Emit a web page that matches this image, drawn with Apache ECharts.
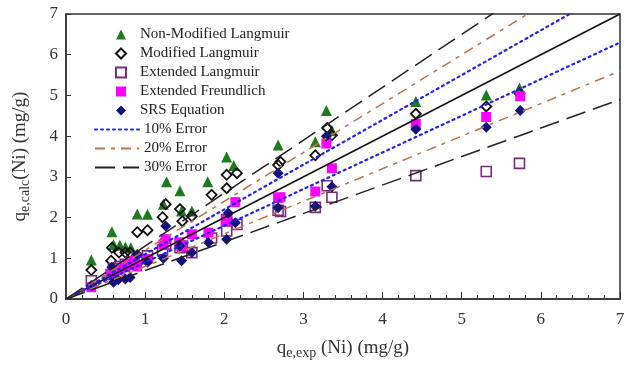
<!DOCTYPE html>
<html>
<head>
<meta charset="utf-8">
<script src="https://cdn.jsdelivr.net/npm/echarts@6/dist/echarts.min.js"></script>
<style>
  html, body { margin: 0; padding: 0; background: #fff; }
  #chart { width: 634px; height: 365px; }
</style>
</head>
<body>
<div id="chart"></div>
<script>
// values: [q_exp, q_calc]
var nonModified = [[0.32,0.96],[0.58,1.65],[0.60,1.34],[0.68,1.32],[0.75,1.28],[0.82,1.26],[0.90,2.09],[1.03,2.08],
  [1.23,2.33],[1.27,2.88],[1.44,2.66],[1.46,2.16],[1.59,2.16],[1.79,2.88],[2.03,3.49],[2.12,3.28],
  [2.68,3.78],[3.15,3.86],[3.29,4.63],[3.36,4.14],[4.42,4.85],[5.31,5.01],[5.73,5.18]];
var modified = [[0.32,0.71],[0.57,0.94],[0.58,1.26],[0.67,1.14],[0.75,1.14],[0.81,1.14],[0.90,1.64],[1.03,1.69],
  [1.22,2.01],[1.26,2.33],[1.44,2.21],[1.47,1.91],[1.59,2.03],[1.84,2.56],[2.03,2.72],[2.03,3.05],[2.16,3.09],
  [2.68,3.29],[2.71,3.37],[3.15,3.53],[3.30,4.20],[3.36,4.02],[4.42,4.55],[5.31,4.73],[5.73,5.05]];
var extLangmuir = [[0.32,0.45],[0.57,0.60],[0.60,0.75],[0.68,0.80],[0.75,0.85],[0.82,0.90],[0.90,1.00],[1.03,1.06],
  [1.22,1.20],[1.26,1.35],[1.44,1.26],[1.47,1.30],[1.59,1.14],[1.84,1.50],[2.03,1.67],[2.03,1.95],[2.16,1.83],
  [2.68,2.18],[2.71,2.15],[3.15,2.25],[3.30,2.78],[3.36,2.50],[4.42,3.03],[5.31,3.13],[5.73,3.33]];
var extFreundlich = [[0.32,0.29],[0.57,0.62],[0.60,0.70],[0.68,0.72],[0.75,0.78],[0.80,0.85],[0.87,0.94],[0.90,0.80],
  [1.03,0.98],[1.23,1.34],[1.26,1.47],[1.43,1.39],[1.47,1.30],[1.59,1.59],[1.80,1.63],[2.02,1.91],[2.03,1.95],
  [2.14,2.38],[2.68,2.48],[2.71,2.50],[3.15,2.64],[3.29,3.82],[3.36,3.21],[4.42,4.30],[5.31,4.47],[5.74,4.98]];
var srs = [[0.32,0.33],[0.58,0.78],[0.60,0.41],[0.66,0.47],[0.75,0.49],[0.81,0.53],[0.90,1.09],[1.03,0.90],
  [1.23,1.00],[1.26,1.79],[1.44,1.30],[1.46,0.94],[1.59,1.14],[1.80,1.39],[2.03,1.47],[2.05,2.11],[2.14,1.87],
  [2.68,3.09],[2.68,2.24],[3.15,2.28],[3.29,4.00],[3.36,2.76],[4.42,4.17],[5.31,4.22],[5.74,4.63]];

// error bands y = k*x
var errFactors = { '10% Error': [1.1, 0.9], '20% Error': [1.2, 0.8], '30% Error': [1.3, 0.7] };
var axisTicks = [0, 1, 2, 3, 4, 5, 6, 7];

var font = 'Liberation Serif';
var chart = echarts.init(document.getElementById('chart'));

function band(k) {
  return [[0, 0], [7, 7 * k]];
}

function errLine(name, k, style) {
  return {
    name: name, type: 'line', data: band(k), symbol: 'none', silent: true,
    clip: true, lineStyle: style, itemStyle: { color: style.color }
  };
}

var s10 = { color: '#2222ee', width: 2.2, type: [2, 4], cap: 'round' };
var s20 = { color: '#c0704a', width: 1.5, type: [10, 6, 4, 6] };
var s30 = { color: '#222', width: 1.5, type: [20, 8] };

var legendText = { fontFamily: font, fontSize: 15, color: '#222' };

chart.setOption({
  animation: false,
  grid: { left: 66, right: 14, top: 14, bottom: 63, show: true, borderColor: '#333', borderWidth: 1.5 },
  legend: [{
    // markers
    orient: 'vertical', left: 110, top: 22, itemWidth: 10, itemHeight: 10, itemGap: 4,
    textStyle: Object.assign({ padding: [0, 0, 0, 9] }, legendText),
    data: ['Non-Modified Langmuir', 'Modified Langmuir', 'Extended Langmuir', 'Extended Freundlich', 'SRS Equation']
  }, {
    // error lines
    orient: 'vertical', left: 89, top: 117, itemWidth: 44, itemHeight: 10, itemGap: 4,
    textStyle: legendText,
    data: [
      { name: '10% Error', itemStyle: { opacity: 0 } },
      { name: '20% Error', itemStyle: { opacity: 0 } },
      { name: '30% Error', itemStyle: { opacity: 0 } }
    ]
  }],
  xAxis: {
    type: 'value', min: 0, max: 7, interval: 1,
    axisLine: { lineStyle: { color: '#333', width: 1.5 } },
    axisTick: { inside: true, length: 7, lineStyle: { color: '#333' } },
    minorTick: { show: true, splitNumber: 5, length: 4, lineStyle: { color: '#333' } },
    splitLine: { show: false },
    axisLabel: { fontFamily: font, fontSize: 17, color: '#333', margin: 12,
      formatter: function (v) { return axisTicks.indexOf(v) >= 0 ? String(v) : ''; } },
    name: '{q|q}{sub|e,exp}{q| (Ni) (mg/g)}', nameLocation: 'middle', nameGap: 38,
    nameTextStyle: { rich: {
      q: { fontFamily: font, fontSize: 19, color: '#333' },
      sub: { fontFamily: font, fontSize: 14, color: '#333', padding: [9, 0, 0, 0] }
    } }
  },
  yAxis: {
    type: 'value', min: 0, max: 7, interval: 1,
    axisLine: { lineStyle: { color: '#333', width: 1.5 } },
    axisTick: { inside: true, length: 5, lineStyle: { color: '#333' } },
    splitLine: { show: false },
    axisLabel: { fontFamily: font, fontSize: 17, color: '#333', margin: 8 },
    name: '{q|q}{sub|e,calc}{q|(Ni) (mg/g)}', nameLocation: 'middle', nameGap: 34, nameRotate: 90,
    nameTextStyle: { rich: {
      q: { fontFamily: font, fontSize: 19, color: '#333' },
      sub: { fontFamily: font, fontSize: 14, color: '#333', padding: [9, 0, 0, 0] }
    } }
  },
  series: [
    { type: 'line', name: 'y=x', data: band(1), symbol: 'none', silent: true,
      lineStyle: { color: '#111', width: 1.5 } },
    errLine('10% Error', errFactors['10% Error'][0], s10),
    errLine('10% Error', errFactors['10% Error'][1], s10),
    errLine('20% Error', errFactors['20% Error'][0], s20),
    errLine('20% Error', errFactors['20% Error'][1], s20),
    errLine('30% Error', errFactors['30% Error'][0], s30),
    errLine('30% Error', errFactors['30% Error'][1], s30),
    { name: 'Non-Modified Langmuir', type: 'scatter', data: nonModified, symbol: 'triangle', symbolSize: 11,
      itemStyle: { color: '#1e7a1e', opacity: 1 } },
    { name: 'Modified Langmuir', type: 'scatter', data: modified, symbol: 'diamond', symbolSize: 10,
      itemStyle: { color: 'transparent', borderColor: '#111', borderWidth: 1.8, opacity: 1 } },
    { name: 'Extended Langmuir', type: 'scatter', data: extLangmuir, symbol: 'rect', symbolSize: 10,
      itemStyle: { color: 'transparent', borderColor: '#7a2a80', borderWidth: 1.6, opacity: 1 } },
    { name: 'Extended Freundlich', type: 'scatter', data: extFreundlich, symbol: 'rect', symbolSize: 10,
      itemStyle: { color: '#ff00ff', opacity: 1 } },
    { name: 'SRS Equation', type: 'scatter', data: srs, symbol: 'diamond', symbolSize: 11,
      itemStyle: { color: '#12127a', opacity: 1 } }
  ]
});
</script>
</body>
</html>
